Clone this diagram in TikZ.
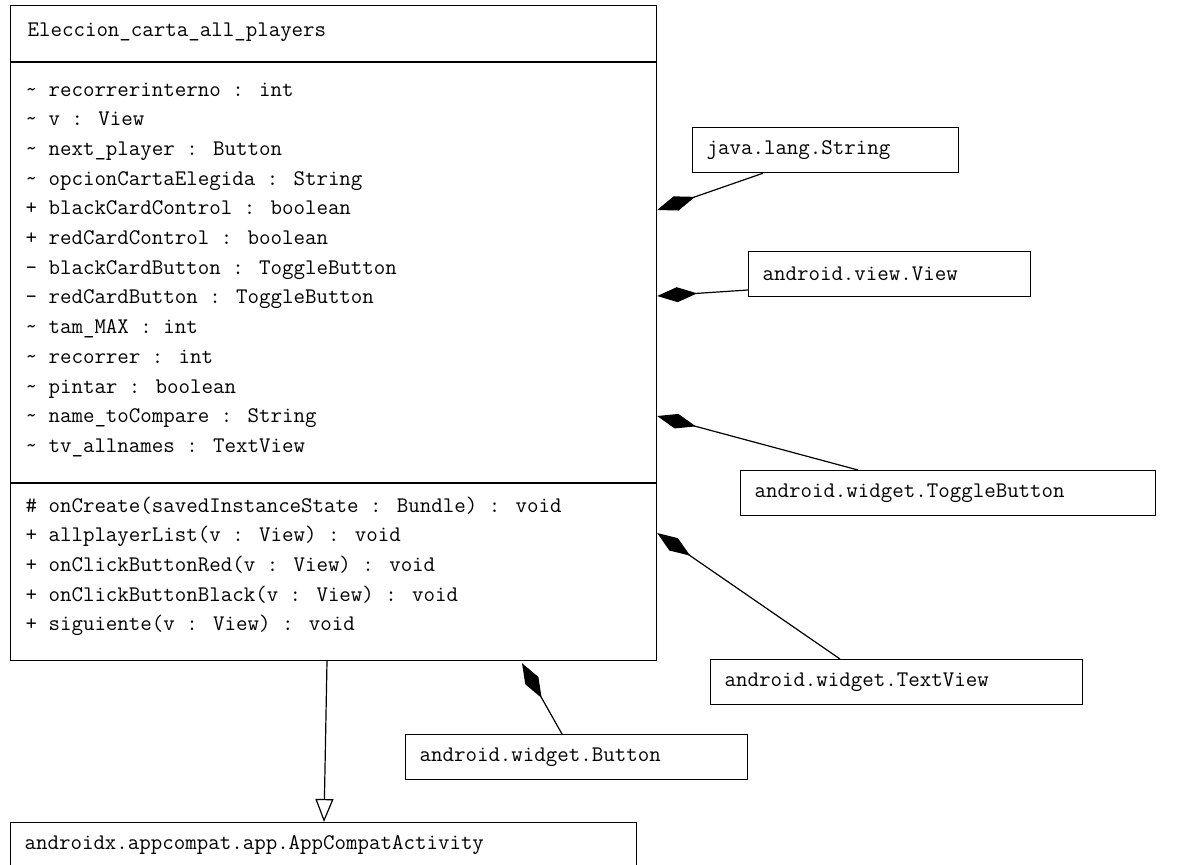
\documentclass[tikz,border=0pt]{standalone}
\usetikzlibrary{arrows.meta,calc}

\tikzset{
  cls/.style={draw, anchor=north west, inner xsep=14pt, inner ysep=0pt, align=left, text width=#1, minimum height=45pt},
  member/.style={anchor=base west, inner sep=0pt},
  comp/.style={-{Diamond[length=40pt,width=15pt]}},
  gen/.style={-{Triangle[open,length=23pt,width=18pt]}}
}

\begin{document}
\begin{tikzpicture}[x=1pt, y=-1pt, line width=1.2pt, font=\ttfamily\fontsize{22.3}{26}\selectfont]
  \useasboundingbox (0,0) rectangle (1179,865);

  % the class itself
  \node[draw, anchor=north west, minimum width=646pt, minimum height=655pt, inner sep=0pt] (main) at (10,5) {};
  \draw (main.west |- 0,62) -- (main.east |- 0,62);
  \draw (main.west |- 0,483) -- (main.east |- 0,483);
  \node[member] (title) at (27,36) {Eleccion\_carta\_all\_players};
  \foreach \txt [count=\i] in {
    \textasciitilde{} recorrerinterno : int,
    \textasciitilde{} v : View,
    \textasciitilde{} next\_player : Button,
    \textasciitilde{} opcionCartaElegida : String,
    + blackCardControl : boolean,
    + redCardControl : boolean,
    - blackCardButton : ToggleButton,
    - redCardButton : ToggleButton,
    \textasciitilde{} tam\_MAX : int,
    \textasciitilde{} recorrer : int,
    \textasciitilde{} pintar : boolean,
    \textasciitilde{} name\_toCompare : String,
    \textasciitilde{} tv\_allnames : TextView}
    \node[member] (attr-\i) at (25,{96+29.7*(\i-1)}) {\txt};
  \foreach \txt [count=\i] in {
    \# onCreate(savedInstanceState : Bundle) : void,
    + allplayerList(v : View) : void,
    + onClickButtonRed(v : View) : void,
    + onClickButtonBlack(v : View) : void,
    + siguiente(v : View) : void}
    \node[member] (meth-\i) at (25,{512+29.7*(\i-1)}) {\txt};

  % used classes
  \node[cls=238pt] (str) at (692,127) {java.lang.String};
  \node[cls=254pt] (view) at (748,251) {android.view.View};
  \node[cls=387pt] (toggle) at (740,470) {android.widget.ToggleButton};
  \node[cls=344pt] (textv) at (710,659) {android.widget.TextView};
  \node[cls=314pt] (btn) at (405,734) {android.widget.Button};
  \node[cls=598pt] (act) at (10,822) {androidx.appcompat.app.AppCompatActivity};

  % compositions
  \draw[comp] ($(str.south west)+(71,0)$) -- ($(main.north east)+(0,205)$);
  \draw[comp] ($(view.north west)+(0,39)$) -- ($(main.north east)+(0,291)$);
  \draw[comp] ($(toggle.north west)+(118,0)$) -- ($(main.north east)+(0,411)$);
  \draw[comp] ($(textv.north west)+(130,0)$) -- ($(main.north east)+(0,528)$);
  \draw[comp] ($(btn.north west)+(157,0)$) -- ($(main.south west)+(512,2)$);

  % inheritance
  \draw[gen] ($(main.south west)+(317,0)$) -- ($(act.north west)+(314,0)$);
\end{tikzpicture}
\end{document}
